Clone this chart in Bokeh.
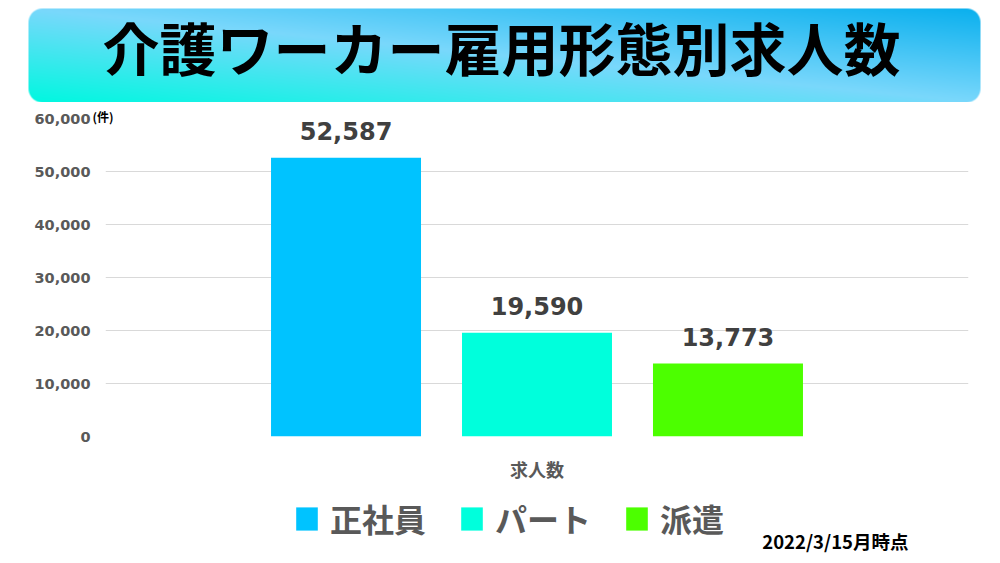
import numpy as np
from bokeh.plotting import figure
from bokeh.models import (FactorRange, Range1d, FixedTicker, NumeralTickFormatter,
                          Title, Legend, LegendItem)
from bokeh.core.properties import value
from bokeh.transform import dodge
from bokeh.embed import file_html
from bokeh.resources import INLINE

# ---- data ----
title = "介護ワーカー雇用形態別求人数"
group = ["求人数"]
categories = ["正社員", "パート", "派遣"]
values = [52587, 19590, 13773]
colors = ["#00c3ff", "#00ffdc", "#4cff00"]
y_ticks = [0, 10000, 20000, 30000, 40000, 50000, 60000]
unit_label = "(件)"
date_note = "2022/3/15月時点"

JP = "Noto Sans CJK JP"
NUM = "DejaVu Sans"
GRAY = "#595959"

# ---- banner with gradient (page rows 0..102) ----
W, H = 952, 94
xs = np.arange(W)[None, :] + 0.5
ys = np.arange(H)[:, None] + 0.5
u = xs / W
v = ys / H  # row 0 at bottom
t = (u + v) / 2.0
c0 = np.array([0, 248, 224], float)
c1 = np.array([122, 216, 252], float)
c2 = np.array([10, 176, 238], float)
t3 = t[..., None]
rgb = np.where(t3 < 0.5, c0 + (c1 - c0) * (t3 / 0.5), c1 + (c2 - c1) * ((t3 - 0.5) / 0.5))
r = 14.0
cx = np.clip(xs, r, W - r)
cy = np.clip(ys, r, H - r)
d = np.sqrt((xs - cx) ** 2 + (ys - cy) ** 2)
alpha = np.clip(r + 0.5 - d, 0, 1) * 255
img = np.zeros((H, W), dtype=np.uint32)
view = img.view(dtype=np.uint8).reshape((H, W, 4))
view[..., 0] = rgb[..., 0].astype(np.uint8)
view[..., 1] = rgb[..., 1].astype(np.uint8)
view[..., 2] = rgb[..., 2].astype(np.uint8)
view[..., 3] = alpha.astype(np.uint8)

banner = figure(width=1000, height=102, x_range=Range1d(0, 1000), y_range=Range1d(0, 102),
                x_axis_location=None, y_axis_location=None, toolbar_location=None,
                output_backend="svg", min_border=0, outline_line_color=None)
banner.xgrid.visible = False
banner.ygrid.visible = False
banner.image_rgba(image=[img], x=28, y=0, dw=W, dh=H)
banner.text(x=[501], y=[57], text=[title], text_align="center", text_baseline="middle",
            text_font=value(JP), text_font_style="bold", text_font_size="57px",
            text_color="#000000")

# ---- chart (page rows 102..488) ----
p = figure(width=1000, height=386, x_range=FactorRange(*group), y_range=Range1d(0, 60000),
           toolbar_location=None, output_backend="svg",
           min_border_left=105, min_border_right=32, min_border_top=16, min_border_bottom=52,
           outline_line_color=None)
p.xgrid.visible = False
p.ygrid.grid_line_color = "#d9d9d9"
p.ygrid.grid_line_width = 1

offsets = [-0.2213, 0.0, 0.2213]
for cat, val, col, off in zip(categories, values, colors, offsets):
    src = dict(x=group, top=[val], txt=[f"{val:,}"])
    p.vbar(x=dodge("x", off, range=p.x_range), top="top", width=0.1738,
           fill_color=col, line_color=None, source=src)
    p.text(x=dodge("x", off, range=p.x_range), y="top", text="txt", source=src,
           text_align="center", text_baseline="bottom", y_offset=-18,
           text_font=value(NUM), text_font_style="bold", text_font_size="24px",
           text_color="#404040")

p.yaxis.ticker = FixedTicker(ticks=y_ticks)
p.yaxis.formatter = NumeralTickFormatter(format="0,0")
p.yaxis.axis_line_color = None
p.yaxis.major_tick_line_color = None
p.yaxis.minor_tick_line_color = None
p.yaxis.major_tick_in = 0
p.yaxis.major_tick_out = 0
p.yaxis.major_label_standoff = 15
p.yaxis.major_label_text_font = NUM
p.yaxis.major_label_text_font_style = "bold"
p.yaxis.major_label_text_font_size = "14.5px"
p.yaxis.major_label_text_color = GRAY

p.xaxis.axis_line_color = None
p.xaxis.major_tick_line_color = None
p.xaxis.minor_tick_line_color = None
p.xaxis.major_tick_in = 0
p.xaxis.major_tick_out = 0
p.xaxis.major_label_standoff = 19
p.xaxis.major_label_text_font = JP
p.xaxis.major_label_text_font_style = "bold"
p.xaxis.major_label_text_font_size = "18px"
p.xaxis.major_label_text_color = GRAY

p.add_layout(Title(text=unit_label, align="left", offset=-13, standoff=-12,
                   text_font=JP, text_font_style="bold", text_font_size="12px",
                   text_color="#000000"), "above")

# ---- footer (page rows 488..563): legend and date ----
foot = figure(width=1000, height=75, x_range=Range1d(0, 1000), y_range=Range1d(75, 0),
              x_axis_location=None, y_axis_location=None, toolbar_location=None,
              output_backend="svg", min_border=0, outline_line_color=None)
foot.xgrid.visible = False
foot.ygrid.visible = False
# legend swatches: zero-size placeholder glyphs carrying the series colours
leg_renderers = [foot.vbar(x=[0], top=[0], bottom=[0], width=0, fill_color=c, line_color=None)
                 for c in colors]
legend = Legend(items=[LegendItem(label=c, renderers=[rr]) for c, rr in zip(categories, leg_renderers)],
                orientation="horizontal", location=(293, 22), padding=0, margin=0,
                border_line_color=None, background_fill_alpha=0,
                glyph_width=27, glyph_height=29, label_standoff=10, spacing=32,
                label_text_font=JP, label_text_font_style="bold", label_text_font_size="32px",
                label_text_color=GRAY)
foot.add_layout(legend, "center")
foot.text(x=[908], y=[52], text=[date_note], text_align="right", text_baseline="middle",
          text_font=value(JP), text_font_style="bold", text_font_size="18.5px",
          text_color="#000000")

open("out.html", "w").write(file_html([banner, p, foot], INLINE))
